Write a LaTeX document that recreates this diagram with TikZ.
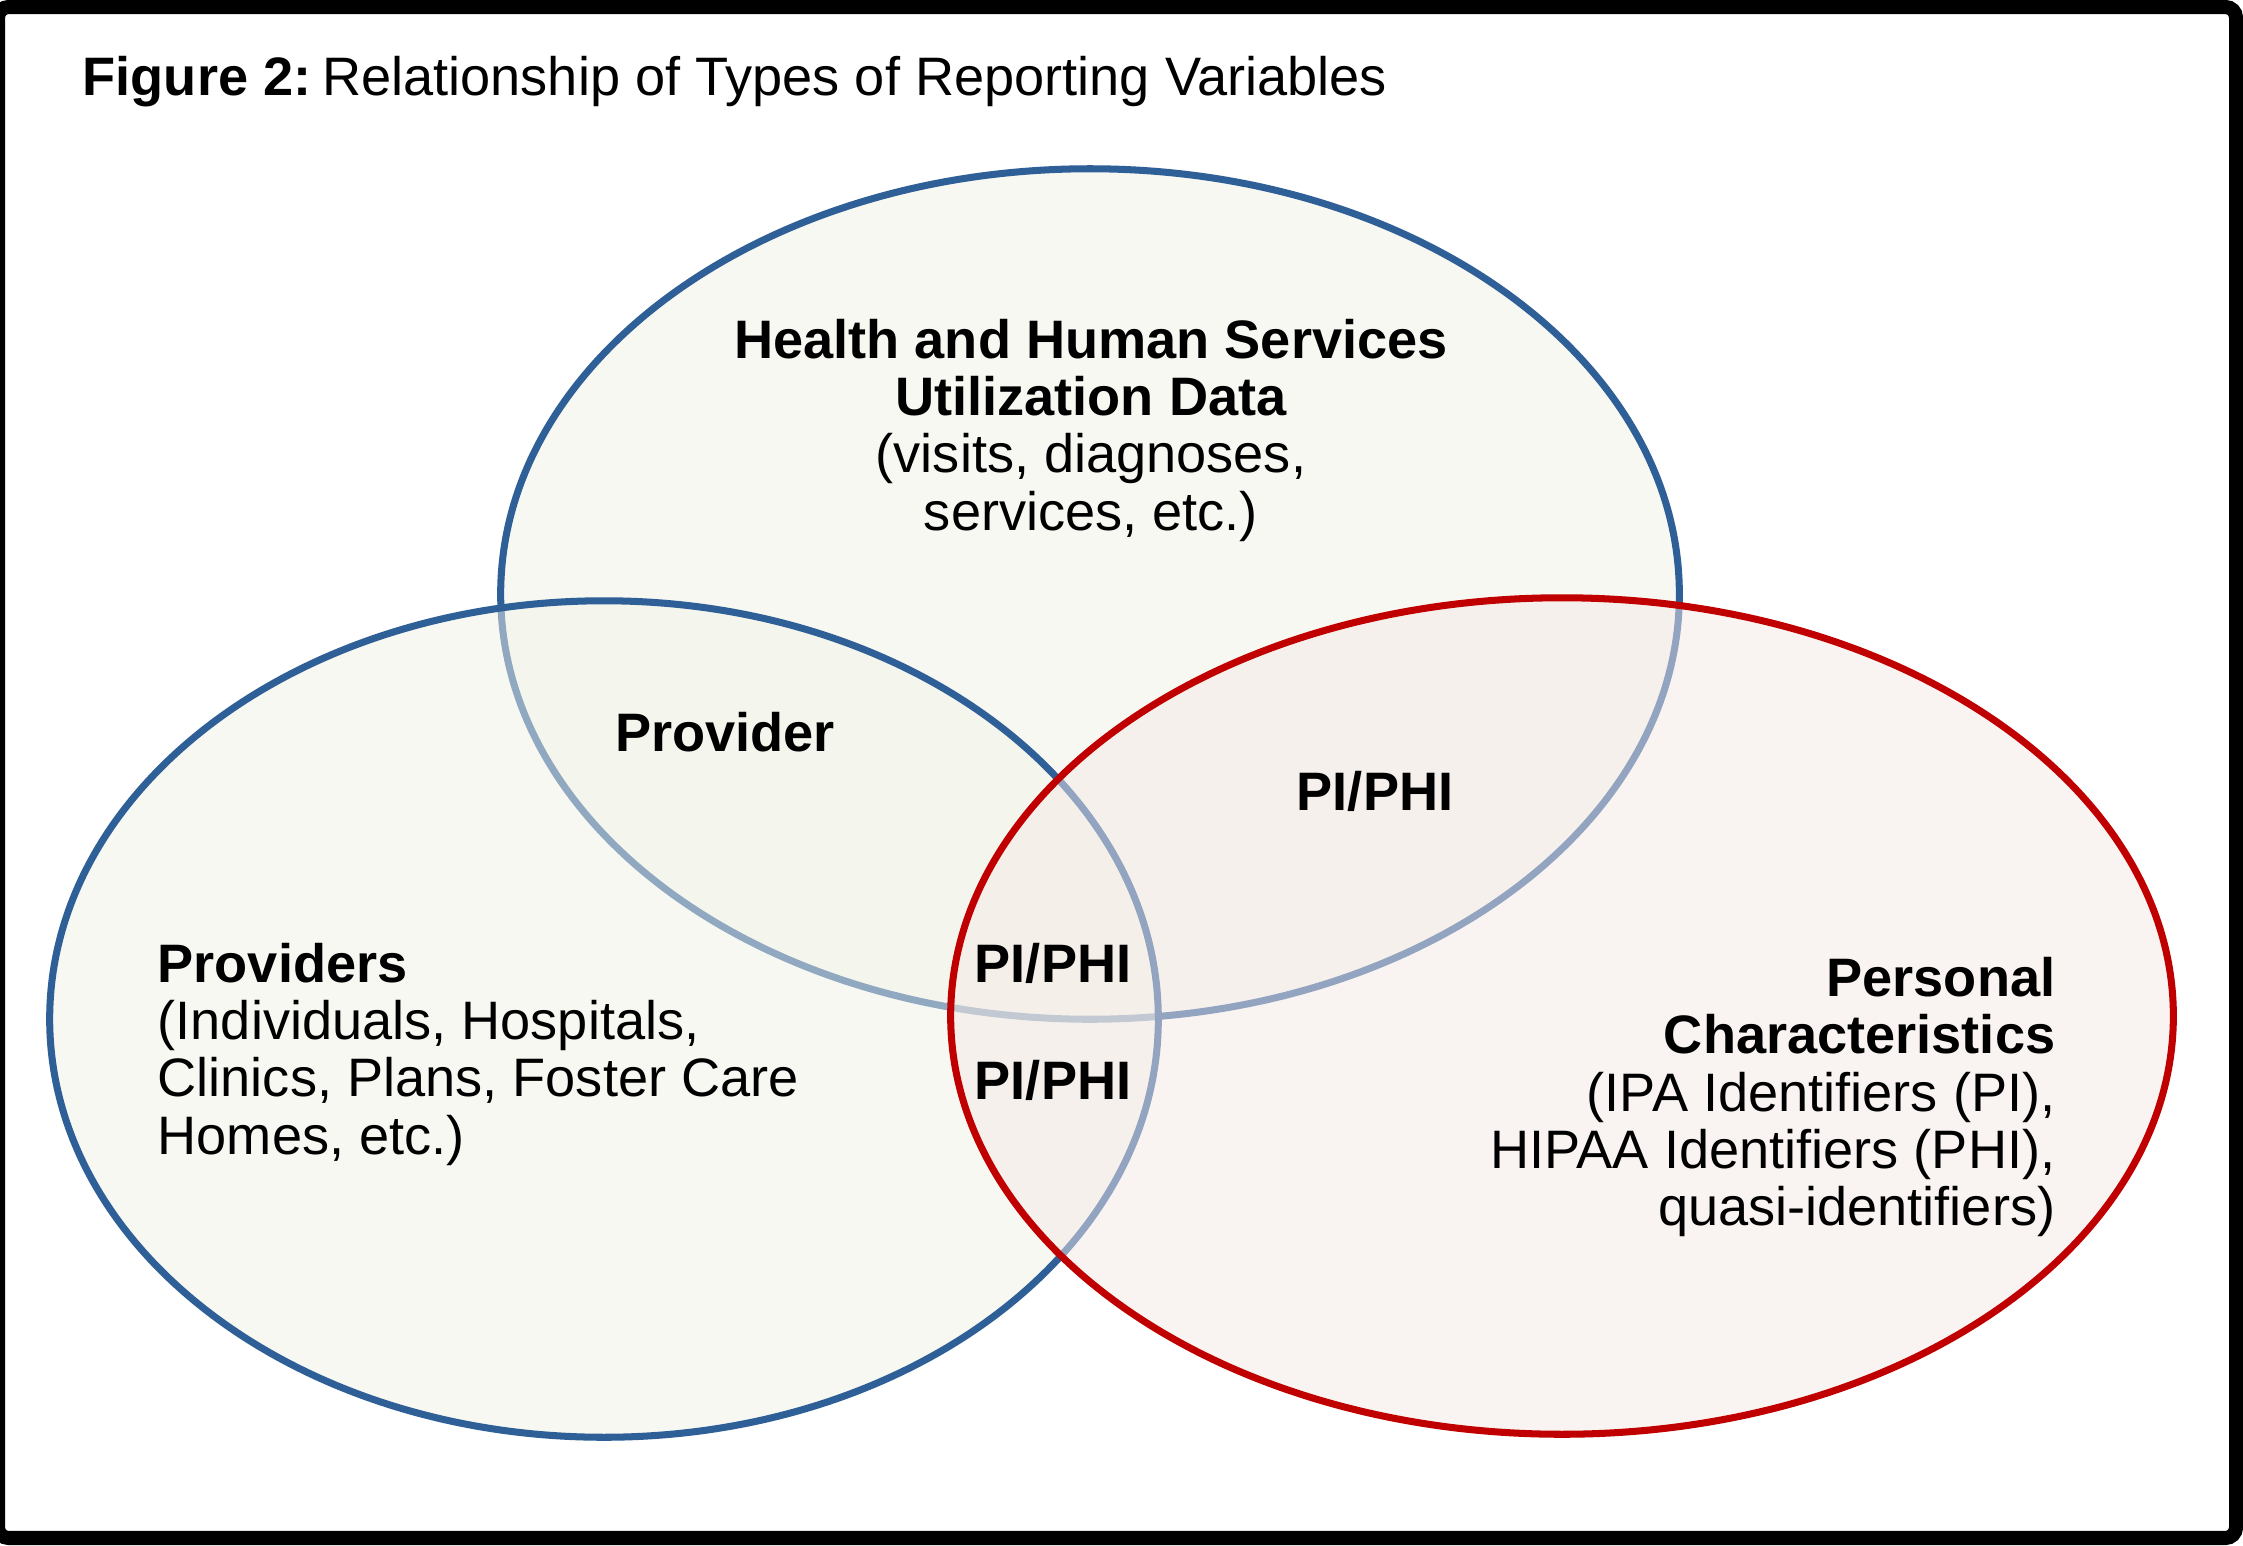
\documentclass[tikz,border=0pt]{standalone}
\usepackage{fontspec}
\setmainfont{Liberation Sans}
\usetikzlibrary{positioning}
\definecolor{vennblue}{RGB}{47,95,151}
\definecolor{vennred}{RGB}{192,0,0}
\definecolor{bluefill}{RGB}{242,243,233}
\definecolor{redfill}{RGB}{245,234,231}

\begin{document}
\begin{tikzpicture}[x=0.01cm,y=-0.01cm,
    set/.style={line width=2pt,fill opacity=0.5},
    blueset/.style={set,draw=vennblue,fill=bluefill},
    redset/.style={set,draw=vennred,fill=redfill},
    txt/.style={font=\fontsize{15.4}{16.3}\selectfont,inner sep=0pt},
    lbl/.style={txt,font=\fontsize{15.4}{16.3}\selectfont\bfseries}]
      \useasboundingbox (0,0) rectangle (2243,1545);
      \fill[white] (0,0) rectangle (2243,1545);
      \draw[line width=4pt,rounded corners=3pt] (-2,7) rectangle (2236,1538);
      % title
      \node[txt,anchor=west] (title) at (82,82) {\textbf{Figure 2:}\hspace{0.2em}Relationship of Types of Reporting Variables};
      % the three sets
      \draw[blueset] (1090,594) ellipse [x radius=5.89cm,y radius=4.25cm];
      \draw[blueset] (604,1019) ellipse [x radius=5.54cm,y radius=4.18cm];
      \draw[redset] (1562,1016) ellipse [x radius=6.11cm,y radius=4.18cm];
      % set labels
      \node[txt,align=center] (hhs) at (1091,430) {\textbf{Health and Human Services}\\\textbf{Utilization Data}\\(visits, diagnoses,\\services, etc.)};
      \node[txt,align=left,anchor=west] (prov) at (157,1054) {\textbf{Providers}\\(Individuals, Hospitals,\\Clinics, Plans, Foster Care\\Homes, etc.)};
      \node[txt,align=right,anchor=east] (pers) at (2056,1097) {\textbf{Personal}\\\textbf{Characteristics}\\(IPA Identifiers (PI),\\HIPAA Identifiers (PHI),\\quasi-identifiers)};
      % overlap labels
      \node[lbl] (provider) at (725,732) {Provider};
      \node[lbl] (pitop) at (1375,791) {PI/PHI};
      \node[lbl] (pimid) at (1053,963) {PI/PHI};
      \node[lbl] (pilow) at (1053,1080) {PI/PHI};
    \end{tikzpicture}
\end{document}
